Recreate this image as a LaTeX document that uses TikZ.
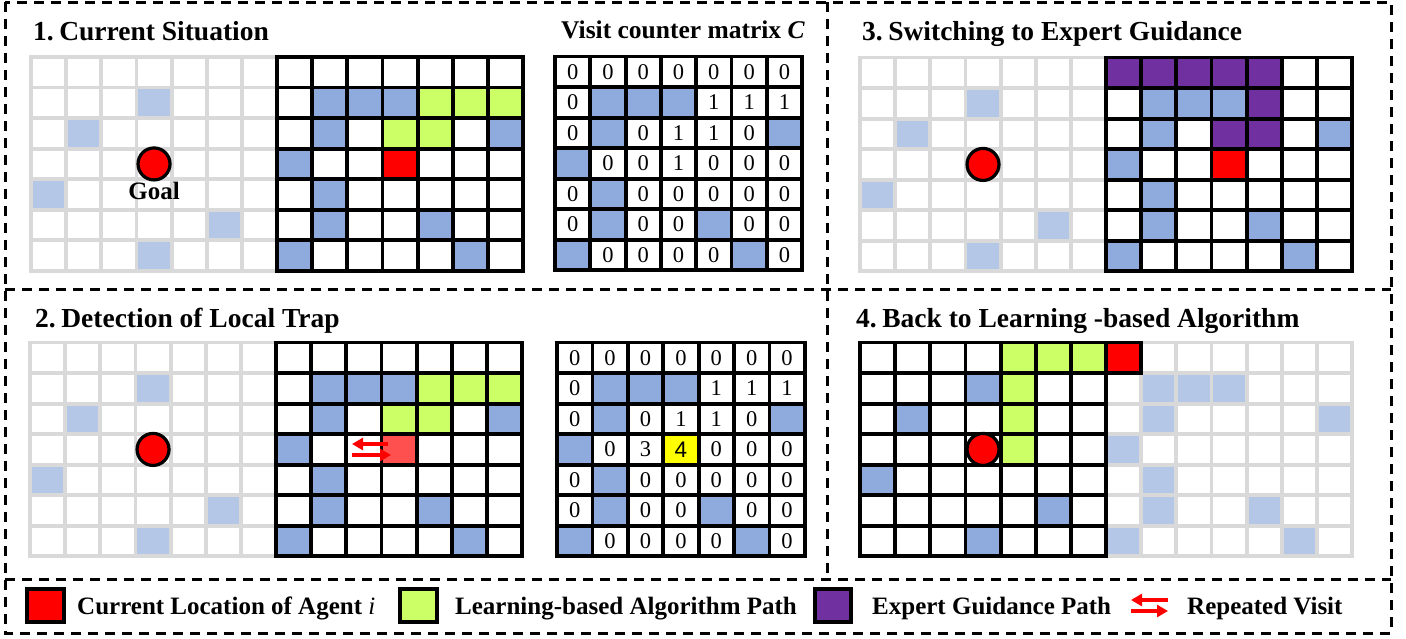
\documentclass[tikz,border=0pt]{standalone}
\usepackage{fontspec}
\setmainfont{Liberation Serif}
\newfontfamily\arialfont{Liberation Sans}
\usetikzlibrary{arrows.meta}
\definecolor{cblue}{HTML}{8FAADC}
\definecolor{lblue}{HTML}{B4C7E7}
\definecolor{lgreen}{HTML}{CCFF66}
\definecolor{cpurple}{HTML}{7030A0}
\definecolor{lred}{HTML}{FF5050}
\definecolor{ggray}{HTML}{D9D9D9}
\definecolor{cyellow}{HTML}{FFFF00}
\tikzset{
  ttl/.style={anchor=base west, inner sep=0, font=\fontsize{27.5}{30}\selectfont\bfseries},
  lgtxt/.style={anchor=base west, inner sep=0, font=\fontsize{25}{28}\selectfont\bfseries},
  numtxt/.style={inner sep=0, font=\fontsize{22.5}{24}\selectfont},
  gline/.style={draw=ggray, line width=3.8pt, line cap=rect},
  bline/.style={draw=black, line width=3.8pt, line cap=rect},
  dline/.style={line width=3pt, dash pattern=on 10pt off 7pt},
  rarrow/.style={draw=red, line width=3.5pt, -{Triangle[length=11pt,width=12pt]}},
  lgbox/.style={draw=black, line width=3.5pt},
  goalc/.style={circle, fill=red, draw=black, line width=3.2pt, minimum size=32pt, inner sep=0},
}
% grid lines: x0 y0 cw ch style
\newcommand{\mygrid}[5]{%
  \foreach \k in {0,...,7}{%
    \draw[#5] ({#1+\k*#3},{#2}) -- ({#1+\k*#3},{#2+7*#4});
    \draw[#5] ({#1},{#2+\k*#4}) -- ({#1+7*#3},{#2+\k*#4});
  }}
% filled cells: x0 y0 cw ch colour list r/c
\newcommand{\mycells}[6]{%
  \edef\mytmplist{#6}%
  \foreach \r/\c in \mytmplist {\fill[#5] ({#1+\c*#3},{#2+\r*#4}) rectangle ++(#3,#4);}}
% numbers: x0 y0 cw ch prefix list r/c/v
\newcommand{\mynums}[6]{%
  \foreach \r/\c/\v in {#6}{\node[numtxt] (#5-\r-\c) at ({#1+(\c+0.5)*#3},{#2+(\r+0.5)*#4}) {\v};}}
\def\CW{35.15}
\def\CH{30.55}
\def\LBLUE{1/3,2/1,4/0,5/5,6/3}
\def\BBLUE{1/1,1/2,1/3,2/1,2/6,3/0,4/1,5/1,5/4,6/0,6/5}
\begin{document}
\begin{tikzpicture}[x=1pt,y=-1pt]
\useasboundingbox (0,0) rectangle (1406,638);
\fill[white] (0,0) rectangle (1406,638);
% frames
\draw[dline] (5,2) rectangle (1391,633);
\draw[dline] (5,289) -- (1391,289);
\draw[dline] (5,579) -- (1391,579);
\draw[dline] (827,2) -- (827,579);

% ---------- Panel 1 ----------
\node[ttl] (t1) at (33,40) {1.\kern5.5pt Current Situation};
\node[ttl, font=\fontsize{25.5}{28}\selectfont\bfseries] (tvc) at (561,38) {Visit counter matrix \textit{C}};
\mycells{31}{57}{\CW}{\CH}{lblue}{\LBLUE}
\mygrid{31}{57}{\CW}{\CH}{gline}
\node[goalc] (g1) at ({31+3.5*\CW},{57+3.5*\CH}) {};
\node[anchor=base, inner sep=0, font=\fontsize{25}{28}\selectfont\bfseries] (goal) at ({31+3.5*\CW},199) {Goal};
\mycells{277}{57}{\CW}{\CH}{cblue}{\BBLUE}
\mycells{277}{57}{\CW}{\CH}{lgreen}{1/4,1/5,1/6,2/3,2/4}
\mycells{277}{57}{\CW}{\CH}{red}{3/3}
\mygrid{277}{57}{\CW}{\CH}{bline}
\mycells{555}{56.5}{35.3}{\CH}{cblue}{\BBLUE}
\mygrid{555}{56.5}{35.3}{\CH}{bline}
\mynums{555}{56.5}{35.3}{\CH}{a}{0/0/0,0/1/0,0/2/0,0/3/0,0/4/0,0/5/0,0/6/0,1/0/0,1/4/1,1/5/1,1/6/1,2/0/0,2/2/0,2/3/1,2/4/1,2/5/0,3/1/0,3/2/0,3/3/1,3/4/0,3/5/0,3/6/0,4/0/0,4/2/0,4/3/0,4/4/0,4/5/0,4/6/0,5/0/0,5/2/0,5/3/0,5/5/0,5/6/0,6/1/0,6/2/0,6/3/0,6/4/0,6/6/0}

% ---------- Panel 2 ----------
\node[ttl] (t2) at (35,327) {2.\kern5.5pt Detection of Local Trap};
\mycells{30}{342.5}{\CW}{\CH}{lblue}{\LBLUE}
\mygrid{30}{342.5}{\CW}{\CH}{gline}
\node[goalc] (g2) at ({30+3.5*\CW},{342.5+3.5*\CH}) {};
\mycells{276}{342.5}{\CW}{\CH}{cblue}{\BBLUE}
\mycells{276}{342.5}{\CW}{\CH}{lgreen}{1/4,1/5,1/6,2/3,2/4}
\mycells{276}{342.5}{\CW}{\CH}{lred}{3/3}
\mygrid{276}{342.5}{\CW}{\CH}{bline}
\coordinate (a1s) at (388,444);
\coordinate (a1e) at (352,444);
\coordinate (a2s) at (352,455);
\coordinate (a2e) at (391,455);
\draw[rarrow] (a1s) -- (a1e);
\draw[rarrow] (a2s) -- (a2e);
\mycells{557}{342.5}{35.4}{\CH}{cblue}{\BBLUE}
\mycells{557}{342.5}{35.4}{\CH}{cyellow}{3/3}
\mygrid{557}{342.5}{35.4}{\CH}{bline}
\mynums{557}{342.5}{35.4}{\CH}{b}{0/0/0,0/1/0,0/2/0,0/3/0,0/4/0,0/5/0,0/6/0,1/0/0,1/4/1,1/5/1,1/6/1,2/0/0,2/2/0,2/3/1,2/4/1,2/5/0,3/1/0,3/2/3,3/3/{\arialfont 4},3/4/0,3/5/0,3/6/0,4/0/0,4/2/0,4/3/0,4/4/0,4/5/0,4/6/0,5/0/0,5/2/0,5/3/0,5/5/0,5/6/0,6/1/0,6/2/0,6/3/0,6/4/0,6/6/0}

% ---------- Panel 3 ----------
\node[ttl] (t3) at (862,40) {3.\kern5.5pt Switching to Expert Guidance};
\mycells{860}{57.5}{\CW}{\CH}{lblue}{\LBLUE}
\mygrid{860}{57.5}{\CW}{\CH}{gline}
\node[goalc] (g3) at ({860+3.5*\CW},{57.5+3.5*\CH}) {};
\mycells{1106}{57.5}{\CW}{\CH}{cblue}{\BBLUE}
\mycells{1106}{57.5}{\CW}{\CH}{cpurple}{0/0,0/1,0/2,0/3,0/4,1/4,2/3,2/4}
\mycells{1106}{57.5}{\CW}{\CH}{red}{3/3}
\mygrid{1106}{57.5}{\CW}{\CH}{bline}

% ---------- Panel 4 ----------
\node[ttl] (t4) at (856,327) {4.\kern5.5pt Back to Learning -based Algorithm};
\mycells{1106}{342.5}{\CW}{\CH}{lblue}{\BBLUE}
\mygrid{1106}{342.5}{\CW}{\CH}{gline}
\mycells{860}{342.5}{\CW}{\CH}{cblue}{1/3,2/1,4/0,5/5,6/3}
\mycells{860}{342.5}{\CW}{\CH}{lgreen}{0/4,0/5,0/6,1/4,2/4,3/4}
\mygrid{860}{342.5}{\CW}{\CH}{bline}
\draw[bline, fill=red] (1106,342.5) rectangle ++(\CW,\CH);
\node[goalc] (g4) at ({860+3.5*\CW},{342.5+3.5*\CH}) {};

% ---------- Legend ----------
\draw[lgbox, fill=red] (27,589) rectangle (64,622);
\node[lgtxt] (l1) at (77,614) {Current Location of Agent {\mdseries\itshape i}};
\draw[lgbox, fill=lgreen] (400,589) rectangle (437,622);
\node[lgtxt] (l2) at (455,614) {Learning-based Algorithm Path};
\draw[lgbox, fill=cpurple] (815,589) rectangle (851,622);
\node[lgtxt] (l3) at (872,614) {Expert Guidance Path};
\coordinate (b1s) at (1168,600);
\coordinate (b1e) at (1131,600);
\coordinate (b2s) at (1131,611);
\coordinate (b2e) at (1168,611);
\draw[rarrow] (b1s) -- (b1e);
\draw[rarrow] (b2s) -- (b2e);
\node[lgtxt] (l4) at (1187,614) {Repeated Visit};
\end{tikzpicture}
\end{document}
